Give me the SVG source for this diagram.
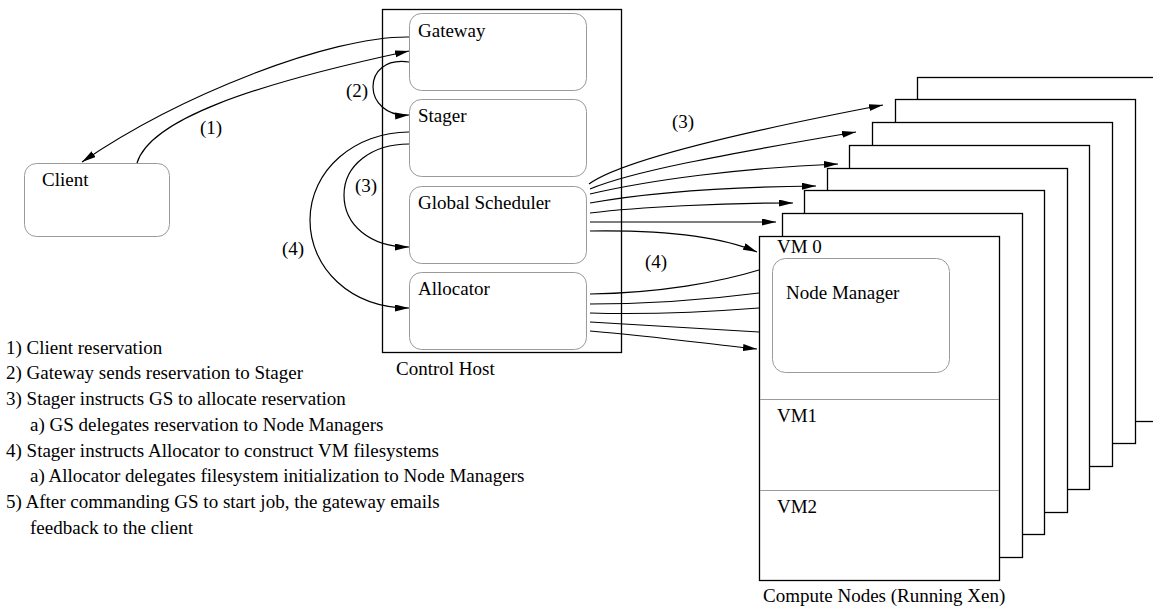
<svg xmlns="http://www.w3.org/2000/svg" width="1153" height="609" viewBox="0 0 1153 609">
<style>
text{font-family:"Liberation Serif","Times New Roman",serif;font-size:19px;fill:#000}
.host{fill:none;stroke:#000;stroke-width:1.3}
.rbox{fill:#fff;stroke:#9a9a9a;stroke-width:1}
.frame{fill:#fff;stroke:#000;stroke-width:1.3}
.div{stroke:#9a9a9a;stroke-width:1}
.c{fill:none;stroke:#000;stroke-width:1.2}
.a{marker-end:url(#ah)}
</style>
<defs>
<marker id="ah" markerUnits="userSpaceOnUse" markerWidth="15" markerHeight="8" refX="14" refY="3.5" orient="auto" viewBox="0 0 15 8">
<path d="M0,0 L14,3.5 L0,7 z" fill="#000"/>
</marker>
</defs>

<g id="compute-nodes">
<rect class="frame" x="917.5" y="77.5" width="240" height="344"/>
<rect class="frame" x="895.5" y="99.5" width="240" height="344"/>
<rect class="frame" x="872.5" y="122.5" width="240" height="344"/>
<rect class="frame" x="849.5" y="145.5" width="240" height="344"/>
<rect class="frame" x="827.5" y="168.5" width="240" height="344"/>
<rect class="frame" x="804.5" y="190.5" width="240" height="344"/>
<rect class="frame" x="782.5" y="213.5" width="240" height="344"/>
<rect class="frame" x="759.5" y="236.5" width="240" height="344"/>
<line class="div" x1="760" y1="399.5" x2="999" y2="399.5"/>
<line class="div" x1="760" y1="490.5" x2="999" y2="490.5"/>
<text x="777" y="253">VM 0</text>
<text x="777" y="422">VM1</text>
<text x="777" y="513">VM2</text>
<text x="763" y="602">Compute Nodes (Running Xen)</text>
</g>
<g id="node-manager">
<rect class="rbox" x="772.5" y="258.5" width="177" height="114" rx="13"/>
<text x="786" y="299">Node Manager</text>
</g>

<g id="control-host">
<rect class="host" x="382.5" y="9.5" width="239" height="343"/>
<text x="396" y="375">Control Host</text>
</g>
<g id="gateway">
<rect class="rbox" x="409.5" y="13.5" width="177" height="77" rx="12"/>
<text x="418" y="37">Gateway</text>
</g>
<g id="stager">
<rect class="rbox" x="409.5" y="99.5" width="177" height="77" rx="12"/>
<text x="418" y="122">Stager</text>
</g>
<g id="global-scheduler">
<rect class="rbox" x="409.5" y="186.5" width="177" height="77" rx="12"/>
<text x="418" y="209">Global Scheduler</text>
</g>
<g id="allocator">
<rect class="rbox" x="409.5" y="272.5" width="177" height="77" rx="12"/>
<text x="418" y="295">Allocator</text>
</g>
<g id="client">
<rect class="rbox" x="24.5" y="163.5" width="145" height="73" rx="12"/>
<text x="42" y="186">Client</text>
</g>

<g id="connectors">
<path class="c a" d="M409,37 C330,36 180,95 82,162"/>
<path class="c a" d="M137,163 C150,120 250,85 409,51"/>
<path class="c a" d="M409,62 C360,55 362,118 409,115"/>
<path class="c a" d="M409,144 C372,144 344,165 344,195 C344,225 370,247 409,247"/>
<path class="c a" d="M409,132 C355,132 310,170 310,220 C310,268 350,308 409,308"/>
<path class="c a" d="M589,184 C615,165 700,140 883,105"/>
<path class="c a" d="M590,189 C630,172 720,155 856,132"/>
<path class="c a" d="M590,194 C650,180 740,168 838,164"/>
<path class="c a" d="M590,203 C640,194 720,187 816,186"/>
<path class="c a" d="M590,213 C640,207 720,203 793,203"/>
<path class="c a" d="M590,222 L776,222"/>
<path class="c a" d="M590,231 C660,230 720,236 757,252"/>
<path class="c" d="M590,294 C660,293 720,282 759,270"/>
<path class="c" d="M590,304 C660,304 720,298 759,293"/>
<path class="c" d="M590,313 C660,315 720,311 759,308"/>
<path class="c" d="M590,322 C660,326 720,330 759,332"/>
<path class="c a" d="M590,331 C650,336 710,344 757,349"/>
<text x="200" y="134">(1)</text>
<text x="346" y="97">(2)</text>
<text x="355" y="192">(3)</text>
<text x="282" y="255">(4)</text>
<text x="672" y="128">(3)</text>
<text x="645" y="268">(4)</text>
</g>

<g id="legend">
<text x="6" y="354">1) Client reservation</text>
<text x="6" y="379">2) Gateway sends reservation to Stager</text>
<text x="6" y="405">3) Stager instructs GS to allocate reservation</text>
<text x="30" y="431">a) GS delegates reservation to Node Managers</text>
<text x="6" y="457">4) Stager instructs Allocator to construct VM filesystems</text>
<text x="30" y="482">a) Allocator delegates filesystem initialization to Node Managers</text>
<text x="6" y="508">5) After commanding GS to start job, the gateway emails</text>
<text x="30" y="534">feedback to the client</text>
</g>
</svg>
